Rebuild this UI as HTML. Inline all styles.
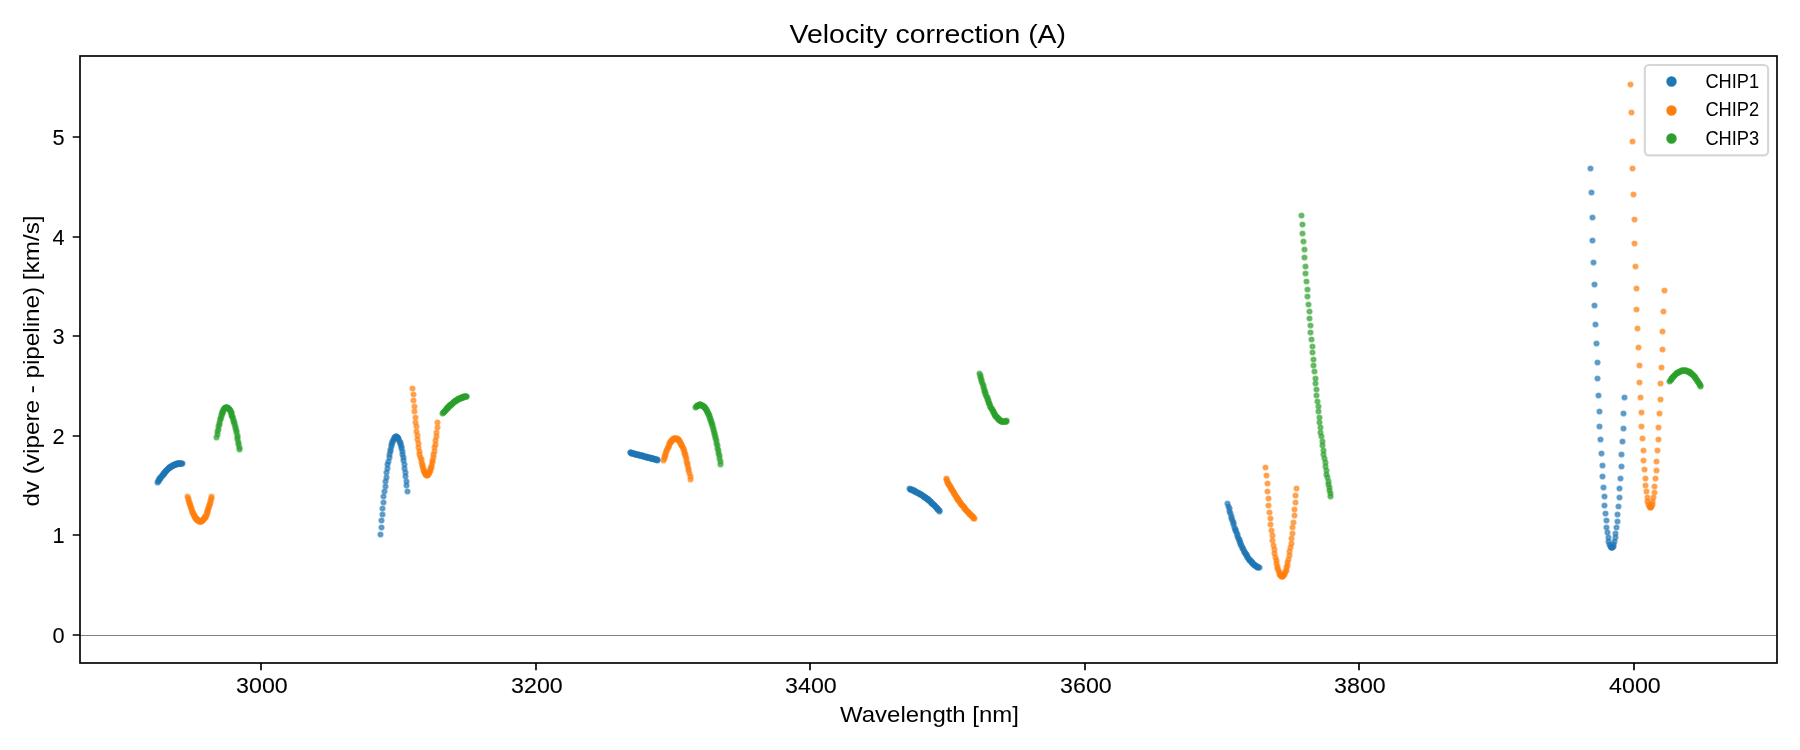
<!DOCTYPE html>
<html lang="en"><head><meta charset="utf-8"><title>Velocity correction (A)</title>
<style>html,body{margin:0;padding:0;background:#fff}body{width:1800px;height:750px;overflow:hidden}svg{display:block;will-change:transform}text{font-family:"Liberation Sans",sans-serif;fill:#000}.t{font-size:22.7px;stroke:#000;stroke-width:.1px}.l{font-size:21.9px}.p circle{fill-opacity:.6;stroke-opacity:.6;stroke-width:2.083}</style></head><body>
<svg width="1800" height="750" viewBox="0 0 1800 750" role="img" aria-label="Velocity correction (A): dv (vipere - pipeline) [km/s] versus Wavelength [nm] for CHIP1, CHIP2, CHIP3">
<rect width="1800" height="750" fill="#fff"/>
<rect x="80" y="635" width="1697" height="1" fill="#808080"/>
<g class="p" fill="#1f77b4" stroke="#1f77b4">
<circle cx="157.5" cy="482.5" r="2.083"/><circle cx="158.5" cy="481.5" r="2.083"/><circle cx="158.5" cy="480.5" r="2.083"/><circle cx="159.5" cy="479.5" r="2.083"/><circle cx="159.5" cy="478.5" r="2.083"/><circle cx="160.5" cy="478.5" r="2.083"/><circle cx="160.5" cy="477.5" r="2.083"/><circle cx="161.5" cy="476.5" r="2.083"/><circle cx="162.5" cy="475.5" r="2.083"/><circle cx="162.5" cy="475.5" r="2.083"/><circle cx="163.5" cy="474.5" r="2.083"/><circle cx="163.5" cy="473.5" r="2.083"/><circle cx="164.5" cy="473.5" r="2.083"/><circle cx="164.5" cy="472.5" r="2.083"/><circle cx="165.5" cy="471.5" r="2.083"/><circle cx="165.5" cy="471.5" r="2.083"/><circle cx="166.5" cy="470.5" r="2.083"/><circle cx="166.5" cy="470.5" r="2.083"/><circle cx="167.5" cy="469.5" r="2.083"/><circle cx="167.5" cy="469.5" r="2.083"/><circle cx="168.5" cy="468.5" r="2.083"/><circle cx="168.5" cy="468.5" r="2.083"/><circle cx="169.5" cy="467.5" r="2.083"/><circle cx="169.5" cy="467.5" r="2.083"/><circle cx="170.5" cy="467.5" r="2.083"/><circle cx="170.5" cy="466.5" r="2.083"/><circle cx="171.5" cy="466.5" r="2.083"/><circle cx="171.5" cy="466.5" r="2.083"/><circle cx="172.5" cy="465.5" r="2.083"/><circle cx="172.5" cy="465.5" r="2.083"/><circle cx="173.5" cy="465.5" r="2.083"/><circle cx="173.5" cy="465.5" r="2.083"/><circle cx="174.5" cy="464.5" r="2.083"/><circle cx="174.5" cy="464.5" r="2.083"/><circle cx="175.5" cy="464.5" r="2.083"/><circle cx="175.5" cy="464.5" r="2.083"/><circle cx="176.5" cy="464.5" r="2.083"/><circle cx="176.5" cy="463.5" r="2.083"/><circle cx="177.5" cy="463.5" r="2.083"/><circle cx="177.5" cy="463.5" r="2.083"/><circle cx="178.5" cy="463.5" r="2.083"/><circle cx="178.5" cy="463.5" r="2.083"/><circle cx="179.5" cy="463.5" r="2.083"/><circle cx="179.5" cy="463.5" r="2.083"/><circle cx="179.5" cy="463.5" r="2.083"/><circle cx="180.5" cy="463.5" r="2.083"/><circle cx="180.5" cy="463.5" r="2.083"/><circle cx="181.5" cy="463.5" r="2.083"/><circle cx="181.5" cy="463.5" r="2.083"/><circle cx="182.5" cy="463.5" r="2.083"/>
<circle cx="380.5" cy="534.5" r="2.083"/><circle cx="381.5" cy="527.5" r="2.083"/><circle cx="381.5" cy="520.5" r="2.083"/><circle cx="382.5" cy="514.5" r="2.083"/><circle cx="382.5" cy="508.5" r="2.083"/><circle cx="383.5" cy="502.5" r="2.083"/><circle cx="383.5" cy="496.5" r="2.083"/><circle cx="384.5" cy="491.5" r="2.083"/><circle cx="385.5" cy="486.5" r="2.083"/><circle cx="385.5" cy="481.5" r="2.083"/><circle cx="386.5" cy="477.5" r="2.083"/><circle cx="386.5" cy="472.5" r="2.083"/><circle cx="387.5" cy="468.5" r="2.083"/><circle cx="387.5" cy="464.5" r="2.083"/><circle cx="388.5" cy="461.5" r="2.083"/><circle cx="389.5" cy="457.5" r="2.083"/><circle cx="389.5" cy="454.5" r="2.083"/><circle cx="390.5" cy="451.5" r="2.083"/><circle cx="390.5" cy="449.5" r="2.083"/><circle cx="391.5" cy="446.5" r="2.083"/><circle cx="391.5" cy="444.5" r="2.083"/><circle cx="392.5" cy="442.5" r="2.083"/><circle cx="392.5" cy="441.5" r="2.083"/><circle cx="393.5" cy="439.5" r="2.083"/><circle cx="394.5" cy="438.5" r="2.083"/><circle cx="394.5" cy="437.5" r="2.083"/><circle cx="395.5" cy="437.5" r="2.083"/><circle cx="395.5" cy="436.5" r="2.083"/><circle cx="396.5" cy="436.5" r="2.083"/><circle cx="396.5" cy="436.5" r="2.083"/><circle cx="397.5" cy="437.5" r="2.083"/><circle cx="397.5" cy="437.5" r="2.083"/><circle cx="398.5" cy="438.5" r="2.083"/><circle cx="398.5" cy="439.5" r="2.083"/><circle cx="399.5" cy="441.5" r="2.083"/><circle cx="400.5" cy="442.5" r="2.083"/><circle cx="400.5" cy="444.5" r="2.083"/><circle cx="401.5" cy="446.5" r="2.083"/><circle cx="401.5" cy="448.5" r="2.083"/><circle cx="402.5" cy="451.5" r="2.083"/><circle cx="402.5" cy="454.5" r="2.083"/><circle cx="403.5" cy="457.5" r="2.083"/><circle cx="403.5" cy="460.5" r="2.083"/><circle cx="404.5" cy="464.5" r="2.083"/><circle cx="404.5" cy="468.5" r="2.083"/><circle cx="405.5" cy="472.5" r="2.083"/><circle cx="405.5" cy="476.5" r="2.083"/><circle cx="406.5" cy="481.5" r="2.083"/><circle cx="406.5" cy="485.5" r="2.083"/><circle cx="407.5" cy="491.5" r="2.083"/>
<circle cx="630.5" cy="452.5" r="2.083"/><circle cx="630.5" cy="452.5" r="2.083"/><circle cx="631.5" cy="452.5" r="2.083"/><circle cx="631.5" cy="453.5" r="2.083"/><circle cx="632.5" cy="453.5" r="2.083"/><circle cx="632.5" cy="453.5" r="2.083"/><circle cx="633.5" cy="453.5" r="2.083"/><circle cx="634.5" cy="453.5" r="2.083"/><circle cx="634.5" cy="453.5" r="2.083"/><circle cx="635.5" cy="454.5" r="2.083"/><circle cx="635.5" cy="454.5" r="2.083"/><circle cx="636.5" cy="454.5" r="2.083"/><circle cx="636.5" cy="454.5" r="2.083"/><circle cx="637.5" cy="454.5" r="2.083"/><circle cx="638.5" cy="454.5" r="2.083"/><circle cx="638.5" cy="454.5" r="2.083"/><circle cx="639.5" cy="455.5" r="2.083"/><circle cx="639.5" cy="455.5" r="2.083"/><circle cx="640.5" cy="455.5" r="2.083"/><circle cx="641.5" cy="455.5" r="2.083"/><circle cx="641.5" cy="455.5" r="2.083"/><circle cx="642.5" cy="455.5" r="2.083"/><circle cx="642.5" cy="455.5" r="2.083"/><circle cx="643.5" cy="456.5" r="2.083"/><circle cx="643.5" cy="456.5" r="2.083"/><circle cx="644.5" cy="456.5" r="2.083"/><circle cx="644.5" cy="456.5" r="2.083"/><circle cx="645.5" cy="456.5" r="2.083"/><circle cx="646.5" cy="456.5" r="2.083"/><circle cx="646.5" cy="457.5" r="2.083"/><circle cx="647.5" cy="457.5" r="2.083"/><circle cx="647.5" cy="457.5" r="2.083"/><circle cx="648.5" cy="457.5" r="2.083"/><circle cx="648.5" cy="457.5" r="2.083"/><circle cx="649.5" cy="457.5" r="2.083"/><circle cx="650.5" cy="457.5" r="2.083"/><circle cx="650.5" cy="458.5" r="2.083"/><circle cx="651.5" cy="458.5" r="2.083"/><circle cx="651.5" cy="458.5" r="2.083"/><circle cx="652.5" cy="458.5" r="2.083"/><circle cx="652.5" cy="458.5" r="2.083"/><circle cx="653.5" cy="458.5" r="2.083"/><circle cx="653.5" cy="458.5" r="2.083"/><circle cx="654.5" cy="459.5" r="2.083"/><circle cx="655.5" cy="459.5" r="2.083"/><circle cx="655.5" cy="459.5" r="2.083"/><circle cx="656.5" cy="459.5" r="2.083"/><circle cx="656.5" cy="459.5" r="2.083"/><circle cx="657.5" cy="459.5" r="2.083"/><circle cx="657.5" cy="460.5" r="2.083"/>
<circle cx="909.5" cy="488.5" r="2.083"/><circle cx="910.5" cy="489.5" r="2.083"/><circle cx="910.5" cy="489.5" r="2.083"/><circle cx="911.5" cy="489.5" r="2.083"/><circle cx="912.5" cy="489.5" r="2.083"/><circle cx="912.5" cy="490.5" r="2.083"/><circle cx="913.5" cy="490.5" r="2.083"/><circle cx="914.5" cy="490.5" r="2.083"/><circle cx="914.5" cy="491.5" r="2.083"/><circle cx="915.5" cy="491.5" r="2.083"/><circle cx="915.5" cy="491.5" r="2.083"/><circle cx="916.5" cy="492.5" r="2.083"/><circle cx="917.5" cy="492.5" r="2.083"/><circle cx="917.5" cy="492.5" r="2.083"/><circle cx="918.5" cy="493.5" r="2.083"/><circle cx="919.5" cy="493.5" r="2.083"/><circle cx="919.5" cy="493.5" r="2.083"/><circle cx="920.5" cy="494.5" r="2.083"/><circle cx="920.5" cy="494.5" r="2.083"/><circle cx="921.5" cy="494.5" r="2.083"/><circle cx="922.5" cy="495.5" r="2.083"/><circle cx="922.5" cy="495.5" r="2.083"/><circle cx="923.5" cy="496.5" r="2.083"/><circle cx="924.5" cy="496.5" r="2.083"/><circle cx="924.5" cy="497.5" r="2.083"/><circle cx="925.5" cy="497.5" r="2.083"/><circle cx="925.5" cy="497.5" r="2.083"/><circle cx="926.5" cy="498.5" r="2.083"/><circle cx="927.5" cy="498.5" r="2.083"/><circle cx="927.5" cy="499.5" r="2.083"/><circle cx="928.5" cy="499.5" r="2.083"/><circle cx="928.5" cy="500.5" r="2.083"/><circle cx="929.5" cy="500.5" r="2.083"/><circle cx="930.5" cy="501.5" r="2.083"/><circle cx="930.5" cy="501.5" r="2.083"/><circle cx="931.5" cy="502.5" r="2.083"/><circle cx="931.5" cy="503.5" r="2.083"/><circle cx="932.5" cy="503.5" r="2.083"/><circle cx="933.5" cy="504.5" r="2.083"/><circle cx="933.5" cy="504.5" r="2.083"/><circle cx="934.5" cy="505.5" r="2.083"/><circle cx="934.5" cy="505.5" r="2.083"/><circle cx="935.5" cy="506.5" r="2.083"/><circle cx="936.5" cy="507.5" r="2.083"/><circle cx="936.5" cy="507.5" r="2.083"/><circle cx="937.5" cy="508.5" r="2.083"/><circle cx="937.5" cy="509.5" r="2.083"/><circle cx="938.5" cy="509.5" r="2.083"/><circle cx="939.5" cy="510.5" r="2.083"/><circle cx="939.5" cy="511.5" r="2.083"/>
<circle cx="1227.5" cy="503.5" r="2.083"/><circle cx="1228.5" cy="506.5" r="2.083"/><circle cx="1229.5" cy="508.5" r="2.083"/><circle cx="1229.5" cy="511.5" r="2.083"/><circle cx="1230.5" cy="513.5" r="2.083"/><circle cx="1231.5" cy="516.5" r="2.083"/><circle cx="1231.5" cy="518.5" r="2.083"/><circle cx="1232.5" cy="520.5" r="2.083"/><circle cx="1233.5" cy="522.5" r="2.083"/><circle cx="1233.5" cy="524.5" r="2.083"/><circle cx="1234.5" cy="527.5" r="2.083"/><circle cx="1235.5" cy="529.5" r="2.083"/><circle cx="1235.5" cy="530.5" r="2.083"/><circle cx="1236.5" cy="532.5" r="2.083"/><circle cx="1237.5" cy="534.5" r="2.083"/><circle cx="1237.5" cy="536.5" r="2.083"/><circle cx="1238.5" cy="538.5" r="2.083"/><circle cx="1239.5" cy="539.5" r="2.083"/><circle cx="1239.5" cy="541.5" r="2.083"/><circle cx="1240.5" cy="542.5" r="2.083"/><circle cx="1240.5" cy="544.5" r="2.083"/><circle cx="1241.5" cy="545.5" r="2.083"/><circle cx="1242.5" cy="547.5" r="2.083"/><circle cx="1242.5" cy="548.5" r="2.083"/><circle cx="1243.5" cy="549.5" r="2.083"/><circle cx="1244.5" cy="551.5" r="2.083"/><circle cx="1244.5" cy="552.5" r="2.083"/><circle cx="1245.5" cy="553.5" r="2.083"/><circle cx="1246.5" cy="554.5" r="2.083"/><circle cx="1246.5" cy="555.5" r="2.083"/><circle cx="1247.5" cy="556.5" r="2.083"/><circle cx="1247.5" cy="557.5" r="2.083"/><circle cx="1248.5" cy="558.5" r="2.083"/><circle cx="1249.5" cy="559.5" r="2.083"/><circle cx="1249.5" cy="560.5" r="2.083"/><circle cx="1250.5" cy="560.5" r="2.083"/><circle cx="1251.5" cy="561.5" r="2.083"/><circle cx="1251.5" cy="562.5" r="2.083"/><circle cx="1252.5" cy="562.5" r="2.083"/><circle cx="1252.5" cy="563.5" r="2.083"/><circle cx="1253.5" cy="564.5" r="2.083"/><circle cx="1254.5" cy="564.5" r="2.083"/><circle cx="1254.5" cy="565.5" r="2.083"/><circle cx="1255.5" cy="565.5" r="2.083"/><circle cx="1256.5" cy="566.5" r="2.083"/><circle cx="1256.5" cy="566.5" r="2.083"/><circle cx="1257.5" cy="566.5" r="2.083"/><circle cx="1257.5" cy="567.5" r="2.083"/><circle cx="1258.5" cy="567.5" r="2.083"/><circle cx="1259.5" cy="567.5" r="2.083"/>
<circle cx="1590.5" cy="168.5" r="2.083"/><circle cx="1591.5" cy="192.5" r="2.083"/><circle cx="1592.5" cy="217.5" r="2.083"/><circle cx="1592.5" cy="240.5" r="2.083"/><circle cx="1593.5" cy="262.5" r="2.083"/><circle cx="1594.5" cy="284.5" r="2.083"/><circle cx="1594.5" cy="305.5" r="2.083"/><circle cx="1595.5" cy="324.5" r="2.083"/><circle cx="1596.5" cy="343.5" r="2.083"/><circle cx="1597.5" cy="362.5" r="2.083"/><circle cx="1597.5" cy="378.5" r="2.083"/><circle cx="1598.5" cy="395.5" r="2.083"/><circle cx="1599.5" cy="411.5" r="2.083"/><circle cx="1599.5" cy="426.5" r="2.083"/><circle cx="1600.5" cy="439.5" r="2.083"/><circle cx="1601.5" cy="453.5" r="2.083"/><circle cx="1602.5" cy="465.5" r="2.083"/><circle cx="1602.5" cy="476.5" r="2.083"/><circle cx="1603.5" cy="487.5" r="2.083"/><circle cx="1604.5" cy="496.5" r="2.083"/><circle cx="1604.5" cy="505.5" r="2.083"/><circle cx="1605.5" cy="513.5" r="2.083"/><circle cx="1606.5" cy="520.5" r="2.083"/><circle cx="1606.5" cy="527.5" r="2.083"/><circle cx="1607.5" cy="532.5" r="2.083"/><circle cx="1608.5" cy="537.5" r="2.083"/><circle cx="1608.5" cy="541.5" r="2.083"/><circle cx="1609.5" cy="544.5" r="2.083"/><circle cx="1610.5" cy="546.5" r="2.083"/><circle cx="1611.5" cy="547.5" r="2.083"/><circle cx="1611.5" cy="547.5" r="2.083"/><circle cx="1612.5" cy="547.5" r="2.083"/><circle cx="1613.5" cy="546.5" r="2.083"/><circle cx="1613.5" cy="544.5" r="2.083"/><circle cx="1614.5" cy="541.5" r="2.083"/><circle cx="1615.5" cy="537.5" r="2.083"/><circle cx="1615.5" cy="533.5" r="2.083"/><circle cx="1616.5" cy="527.5" r="2.083"/><circle cx="1617.5" cy="521.5" r="2.083"/><circle cx="1617.5" cy="514.5" r="2.083"/><circle cx="1618.5" cy="506.5" r="2.083"/><circle cx="1619.5" cy="497.5" r="2.083"/><circle cx="1619.5" cy="488.5" r="2.083"/><circle cx="1620.5" cy="478.5" r="2.083"/><circle cx="1621.5" cy="466.5" r="2.083"/><circle cx="1621.5" cy="454.5" r="2.083"/><circle cx="1622.5" cy="441.5" r="2.083"/><circle cx="1623.5" cy="428.5" r="2.083"/><circle cx="1623.5" cy="413.5" r="2.083"/><circle cx="1624.5" cy="397.5" r="2.083"/>
</g>
<g class="p" fill="#ff7f0e" stroke="#ff7f0e">
<circle cx="187.5" cy="496.5" r="2.083"/><circle cx="188.5" cy="498.5" r="2.083"/><circle cx="188.5" cy="500.5" r="2.083"/><circle cx="189.5" cy="502.5" r="2.083"/><circle cx="189.5" cy="503.5" r="2.083"/><circle cx="190.5" cy="505.5" r="2.083"/><circle cx="190.5" cy="506.5" r="2.083"/><circle cx="191.5" cy="508.5" r="2.083"/><circle cx="191.5" cy="509.5" r="2.083"/><circle cx="192.5" cy="511.5" r="2.083"/><circle cx="192.5" cy="512.5" r="2.083"/><circle cx="193.5" cy="513.5" r="2.083"/><circle cx="193.5" cy="514.5" r="2.083"/><circle cx="194.5" cy="515.5" r="2.083"/><circle cx="194.5" cy="516.5" r="2.083"/><circle cx="195.5" cy="517.5" r="2.083"/><circle cx="195.5" cy="518.5" r="2.083"/><circle cx="196.5" cy="518.5" r="2.083"/><circle cx="196.5" cy="519.5" r="2.083"/><circle cx="197.5" cy="519.5" r="2.083"/><circle cx="197.5" cy="520.5" r="2.083"/><circle cx="198.5" cy="520.5" r="2.083"/><circle cx="198.5" cy="520.5" r="2.083"/><circle cx="199.5" cy="521.5" r="2.083"/><circle cx="199.5" cy="521.5" r="2.083"/><circle cx="200.5" cy="521.5" r="2.083"/><circle cx="200.5" cy="521.5" r="2.083"/><circle cx="201.5" cy="521.5" r="2.083"/><circle cx="201.5" cy="520.5" r="2.083"/><circle cx="202.5" cy="520.5" r="2.083"/><circle cx="202.5" cy="520.5" r="2.083"/><circle cx="203.5" cy="519.5" r="2.083"/><circle cx="203.5" cy="519.5" r="2.083"/><circle cx="204.5" cy="518.5" r="2.083"/><circle cx="204.5" cy="517.5" r="2.083"/><circle cx="205.5" cy="517.5" r="2.083"/><circle cx="205.5" cy="516.5" r="2.083"/><circle cx="206.5" cy="515.5" r="2.083"/><circle cx="206.5" cy="514.5" r="2.083"/><circle cx="207.5" cy="512.5" r="2.083"/><circle cx="207.5" cy="511.5" r="2.083"/><circle cx="207.5" cy="510.5" r="2.083"/><circle cx="208.5" cy="508.5" r="2.083"/><circle cx="208.5" cy="507.5" r="2.083"/><circle cx="209.5" cy="505.5" r="2.083"/><circle cx="209.5" cy="504.5" r="2.083"/><circle cx="210.5" cy="502.5" r="2.083"/><circle cx="210.5" cy="500.5" r="2.083"/><circle cx="211.5" cy="498.5" r="2.083"/><circle cx="211.5" cy="496.5" r="2.083"/>
<circle cx="412.5" cy="388.5" r="2.083"/><circle cx="413.5" cy="394.5" r="2.083"/><circle cx="413.5" cy="400.5" r="2.083"/><circle cx="414.5" cy="406.5" r="2.083"/><circle cx="414.5" cy="411.5" r="2.083"/><circle cx="415.5" cy="417.5" r="2.083"/><circle cx="415.5" cy="422.5" r="2.083"/><circle cx="416.5" cy="426.5" r="2.083"/><circle cx="416.5" cy="431.5" r="2.083"/><circle cx="417.5" cy="435.5" r="2.083"/><circle cx="417.5" cy="439.5" r="2.083"/><circle cx="418.5" cy="443.5" r="2.083"/><circle cx="418.5" cy="447.5" r="2.083"/><circle cx="419.5" cy="451.5" r="2.083"/><circle cx="419.5" cy="454.5" r="2.083"/><circle cx="420.5" cy="457.5" r="2.083"/><circle cx="421.5" cy="459.5" r="2.083"/><circle cx="421.5" cy="462.5" r="2.083"/><circle cx="422.5" cy="464.5" r="2.083"/><circle cx="422.5" cy="466.5" r="2.083"/><circle cx="423.5" cy="468.5" r="2.083"/><circle cx="423.5" cy="470.5" r="2.083"/><circle cx="424.5" cy="471.5" r="2.083"/><circle cx="424.5" cy="472.5" r="2.083"/><circle cx="425.5" cy="473.5" r="2.083"/><circle cx="425.5" cy="474.5" r="2.083"/><circle cx="426.5" cy="474.5" r="2.083"/><circle cx="426.5" cy="475.5" r="2.083"/><circle cx="427.5" cy="475.5" r="2.083"/><circle cx="427.5" cy="474.5" r="2.083"/><circle cx="428.5" cy="474.5" r="2.083"/><circle cx="428.5" cy="473.5" r="2.083"/><circle cx="429.5" cy="472.5" r="2.083"/><circle cx="429.5" cy="471.5" r="2.083"/><circle cx="430.5" cy="470.5" r="2.083"/><circle cx="430.5" cy="468.5" r="2.083"/><circle cx="431.5" cy="467.5" r="2.083"/><circle cx="431.5" cy="465.5" r="2.083"/><circle cx="432.5" cy="462.5" r="2.083"/><circle cx="432.5" cy="460.5" r="2.083"/><circle cx="433.5" cy="457.5" r="2.083"/><circle cx="433.5" cy="454.5" r="2.083"/><circle cx="434.5" cy="451.5" r="2.083"/><circle cx="434.5" cy="447.5" r="2.083"/><circle cx="435.5" cy="444.5" r="2.083"/><circle cx="435.5" cy="440.5" r="2.083"/><circle cx="436.5" cy="436.5" r="2.083"/><circle cx="436.5" cy="432.5" r="2.083"/><circle cx="437.5" cy="427.5" r="2.083"/><circle cx="437.5" cy="422.5" r="2.083"/>
<circle cx="663.5" cy="460.5" r="2.083"/><circle cx="664.5" cy="458.5" r="2.083"/><circle cx="664.5" cy="456.5" r="2.083"/><circle cx="665.5" cy="455.5" r="2.083"/><circle cx="665.5" cy="453.5" r="2.083"/><circle cx="666.5" cy="451.5" r="2.083"/><circle cx="666.5" cy="450.5" r="2.083"/><circle cx="667.5" cy="448.5" r="2.083"/><circle cx="668.5" cy="447.5" r="2.083"/><circle cx="668.5" cy="446.5" r="2.083"/><circle cx="669.5" cy="444.5" r="2.083"/><circle cx="669.5" cy="443.5" r="2.083"/><circle cx="670.5" cy="442.5" r="2.083"/><circle cx="670.5" cy="441.5" r="2.083"/><circle cx="671.5" cy="441.5" r="2.083"/><circle cx="671.5" cy="440.5" r="2.083"/><circle cx="672.5" cy="439.5" r="2.083"/><circle cx="673.5" cy="439.5" r="2.083"/><circle cx="673.5" cy="438.5" r="2.083"/><circle cx="674.5" cy="438.5" r="2.083"/><circle cx="674.5" cy="438.5" r="2.083"/><circle cx="675.5" cy="438.5" r="2.083"/><circle cx="675.5" cy="438.5" r="2.083"/><circle cx="676.5" cy="438.5" r="2.083"/><circle cx="677.5" cy="438.5" r="2.083"/><circle cx="677.5" cy="439.5" r="2.083"/><circle cx="678.5" cy="439.5" r="2.083"/><circle cx="678.5" cy="440.5" r="2.083"/><circle cx="679.5" cy="440.5" r="2.083"/><circle cx="679.5" cy="441.5" r="2.083"/><circle cx="680.5" cy="442.5" r="2.083"/><circle cx="680.5" cy="443.5" r="2.083"/><circle cx="681.5" cy="444.5" r="2.083"/><circle cx="681.5" cy="445.5" r="2.083"/><circle cx="682.5" cy="446.5" r="2.083"/><circle cx="683.5" cy="448.5" r="2.083"/><circle cx="683.5" cy="449.5" r="2.083"/><circle cx="684.5" cy="451.5" r="2.083"/><circle cx="684.5" cy="453.5" r="2.083"/><circle cx="685.5" cy="454.5" r="2.083"/><circle cx="685.5" cy="456.5" r="2.083"/><circle cx="686.5" cy="458.5" r="2.083"/><circle cx="686.5" cy="461.5" r="2.083"/><circle cx="687.5" cy="463.5" r="2.083"/><circle cx="687.5" cy="465.5" r="2.083"/><circle cx="688.5" cy="468.5" r="2.083"/><circle cx="688.5" cy="470.5" r="2.083"/><circle cx="689.5" cy="473.5" r="2.083"/><circle cx="690.5" cy="476.5" r="2.083"/><circle cx="690.5" cy="479.5" r="2.083"/>
<circle cx="946.5" cy="478.5" r="2.083"/><circle cx="946.5" cy="479.5" r="2.083"/><circle cx="947.5" cy="481.5" r="2.083"/><circle cx="947.5" cy="482.5" r="2.083"/><circle cx="948.5" cy="483.5" r="2.083"/><circle cx="948.5" cy="484.5" r="2.083"/><circle cx="949.5" cy="485.5" r="2.083"/><circle cx="950.5" cy="486.5" r="2.083"/><circle cx="950.5" cy="487.5" r="2.083"/><circle cx="951.5" cy="488.5" r="2.083"/><circle cx="951.5" cy="489.5" r="2.083"/><circle cx="952.5" cy="490.5" r="2.083"/><circle cx="953.5" cy="491.5" r="2.083"/><circle cx="953.5" cy="492.5" r="2.083"/><circle cx="954.5" cy="493.5" r="2.083"/><circle cx="954.5" cy="494.5" r="2.083"/><circle cx="955.5" cy="495.5" r="2.083"/><circle cx="956.5" cy="496.5" r="2.083"/><circle cx="956.5" cy="497.5" r="2.083"/><circle cx="957.5" cy="498.5" r="2.083"/><circle cx="957.5" cy="499.5" r="2.083"/><circle cx="958.5" cy="499.5" r="2.083"/><circle cx="958.5" cy="500.5" r="2.083"/><circle cx="959.5" cy="501.5" r="2.083"/><circle cx="960.5" cy="502.5" r="2.083"/><circle cx="960.5" cy="503.5" r="2.083"/><circle cx="961.5" cy="504.5" r="2.083"/><circle cx="961.5" cy="504.5" r="2.083"/><circle cx="962.5" cy="505.5" r="2.083"/><circle cx="963.5" cy="506.5" r="2.083"/><circle cx="963.5" cy="506.5" r="2.083"/><circle cx="964.5" cy="507.5" r="2.083"/><circle cx="964.5" cy="508.5" r="2.083"/><circle cx="965.5" cy="509.5" r="2.083"/><circle cx="965.5" cy="509.5" r="2.083"/><circle cx="966.5" cy="510.5" r="2.083"/><circle cx="967.5" cy="511.5" r="2.083"/><circle cx="967.5" cy="511.5" r="2.083"/><circle cx="968.5" cy="512.5" r="2.083"/><circle cx="968.5" cy="512.5" r="2.083"/><circle cx="969.5" cy="513.5" r="2.083"/><circle cx="969.5" cy="514.5" r="2.083"/><circle cx="970.5" cy="514.5" r="2.083"/><circle cx="971.5" cy="515.5" r="2.083"/><circle cx="971.5" cy="515.5" r="2.083"/><circle cx="972.5" cy="516.5" r="2.083"/><circle cx="972.5" cy="516.5" r="2.083"/><circle cx="973.5" cy="517.5" r="2.083"/><circle cx="973.5" cy="518.5" r="2.083"/><circle cx="974.5" cy="518.5" r="2.083"/>
<circle cx="1265.5" cy="467.5" r="2.083"/><circle cx="1266.5" cy="475.5" r="2.083"/><circle cx="1267.5" cy="483.5" r="2.083"/><circle cx="1267.5" cy="491.5" r="2.083"/><circle cx="1268.5" cy="498.5" r="2.083"/><circle cx="1268.5" cy="505.5" r="2.083"/><circle cx="1269.5" cy="512.5" r="2.083"/><circle cx="1270.5" cy="518.5" r="2.083"/><circle cx="1270.5" cy="524.5" r="2.083"/><circle cx="1271.5" cy="530.5" r="2.083"/><circle cx="1272.5" cy="535.5" r="2.083"/><circle cx="1272.5" cy="540.5" r="2.083"/><circle cx="1273.5" cy="545.5" r="2.083"/><circle cx="1274.5" cy="549.5" r="2.083"/><circle cx="1274.5" cy="553.5" r="2.083"/><circle cx="1275.5" cy="557.5" r="2.083"/><circle cx="1276.5" cy="560.5" r="2.083"/><circle cx="1276.5" cy="563.5" r="2.083"/><circle cx="1277.5" cy="566.5" r="2.083"/><circle cx="1277.5" cy="568.5" r="2.083"/><circle cx="1278.5" cy="570.5" r="2.083"/><circle cx="1279.5" cy="572.5" r="2.083"/><circle cx="1279.5" cy="574.5" r="2.083"/><circle cx="1280.5" cy="575.5" r="2.083"/><circle cx="1281.5" cy="575.5" r="2.083"/><circle cx="1281.5" cy="576.5" r="2.083"/><circle cx="1282.5" cy="576.5" r="2.083"/><circle cx="1282.5" cy="576.5" r="2.083"/><circle cx="1283.5" cy="575.5" r="2.083"/><circle cx="1284.5" cy="574.5" r="2.083"/><circle cx="1284.5" cy="573.5" r="2.083"/><circle cx="1285.5" cy="571.5" r="2.083"/><circle cx="1286.5" cy="570.5" r="2.083"/><circle cx="1286.5" cy="567.5" r="2.083"/><circle cx="1287.5" cy="565.5" r="2.083"/><circle cx="1287.5" cy="562.5" r="2.083"/><circle cx="1288.5" cy="559.5" r="2.083"/><circle cx="1289.5" cy="555.5" r="2.083"/><circle cx="1289.5" cy="551.5" r="2.083"/><circle cx="1290.5" cy="547.5" r="2.083"/><circle cx="1291.5" cy="543.5" r="2.083"/><circle cx="1291.5" cy="538.5" r="2.083"/><circle cx="1292.5" cy="533.5" r="2.083"/><circle cx="1292.5" cy="527.5" r="2.083"/><circle cx="1293.5" cy="522.5" r="2.083"/><circle cx="1294.5" cy="515.5" r="2.083"/><circle cx="1294.5" cy="509.5" r="2.083"/><circle cx="1295.5" cy="502.5" r="2.083"/><circle cx="1295.5" cy="495.5" r="2.083"/><circle cx="1296.5" cy="488.5" r="2.083"/>
<circle cx="1630.5" cy="84.5" r="2.083"/><circle cx="1631.5" cy="112.5" r="2.083"/><circle cx="1632.5" cy="141.5" r="2.083"/><circle cx="1632.5" cy="168.5" r="2.083"/><circle cx="1633.5" cy="194.5" r="2.083"/><circle cx="1634.5" cy="219.5" r="2.083"/><circle cx="1634.5" cy="243.5" r="2.083"/><circle cx="1635.5" cy="266.5" r="2.083"/><circle cx="1636.5" cy="288.5" r="2.083"/><circle cx="1636.5" cy="309.5" r="2.083"/><circle cx="1637.5" cy="328.5" r="2.083"/><circle cx="1638.5" cy="347.5" r="2.083"/><circle cx="1639.5" cy="365.5" r="2.083"/><circle cx="1639.5" cy="382.5" r="2.083"/><circle cx="1640.5" cy="397.5" r="2.083"/><circle cx="1641.5" cy="412.5" r="2.083"/><circle cx="1641.5" cy="426.5" r="2.083"/><circle cx="1642.5" cy="438.5" r="2.083"/><circle cx="1643.5" cy="450.5" r="2.083"/><circle cx="1643.5" cy="460.5" r="2.083"/><circle cx="1644.5" cy="469.5" r="2.083"/><circle cx="1645.5" cy="478.5" r="2.083"/><circle cx="1645.5" cy="485.5" r="2.083"/><circle cx="1646.5" cy="491.5" r="2.083"/><circle cx="1647.5" cy="497.5" r="2.083"/><circle cx="1647.5" cy="501.5" r="2.083"/><circle cx="1648.5" cy="504.5" r="2.083"/><circle cx="1649.5" cy="506.5" r="2.083"/><circle cx="1650.5" cy="507.5" r="2.083"/><circle cx="1650.5" cy="507.5" r="2.083"/><circle cx="1651.5" cy="506.5" r="2.083"/><circle cx="1652.5" cy="504.5" r="2.083"/><circle cx="1652.5" cy="501.5" r="2.083"/><circle cx="1653.5" cy="497.5" r="2.083"/><circle cx="1654.5" cy="492.5" r="2.083"/><circle cx="1654.5" cy="486.5" r="2.083"/><circle cx="1655.5" cy="478.5" r="2.083"/><circle cx="1656.5" cy="470.5" r="2.083"/><circle cx="1656.5" cy="461.5" r="2.083"/><circle cx="1657.5" cy="450.5" r="2.083"/><circle cx="1658.5" cy="439.5" r="2.083"/><circle cx="1658.5" cy="427.5" r="2.083"/><circle cx="1659.5" cy="413.5" r="2.083"/><circle cx="1660.5" cy="399.5" r="2.083"/><circle cx="1660.5" cy="383.5" r="2.083"/><circle cx="1661.5" cy="367.5" r="2.083"/><circle cx="1662.5" cy="349.5" r="2.083"/><circle cx="1662.5" cy="331.5" r="2.083"/><circle cx="1663.5" cy="311.5" r="2.083"/><circle cx="1664.5" cy="290.5" r="2.083"/>
</g>
<g class="p" fill="#2ca02c" stroke="#2ca02c">
<circle cx="216.5" cy="437.5" r="2.083"/><circle cx="217.5" cy="434.5" r="2.083"/><circle cx="217.5" cy="431.5" r="2.083"/><circle cx="218.5" cy="429.5" r="2.083"/><circle cx="218.5" cy="426.5" r="2.083"/><circle cx="219.5" cy="424.5" r="2.083"/><circle cx="219.5" cy="422.5" r="2.083"/><circle cx="220.5" cy="419.5" r="2.083"/><circle cx="220.5" cy="418.5" r="2.083"/><circle cx="221.5" cy="416.5" r="2.083"/><circle cx="221.5" cy="414.5" r="2.083"/><circle cx="222.5" cy="413.5" r="2.083"/><circle cx="222.5" cy="412.5" r="2.083"/><circle cx="222.5" cy="411.5" r="2.083"/><circle cx="223.5" cy="410.5" r="2.083"/><circle cx="223.5" cy="409.5" r="2.083"/><circle cx="224.5" cy="408.5" r="2.083"/><circle cx="224.5" cy="408.5" r="2.083"/><circle cx="225.5" cy="407.5" r="2.083"/><circle cx="225.5" cy="407.5" r="2.083"/><circle cx="226.5" cy="407.5" r="2.083"/><circle cx="226.5" cy="407.5" r="2.083"/><circle cx="227.5" cy="407.5" r="2.083"/><circle cx="227.5" cy="407.5" r="2.083"/><circle cx="228.5" cy="408.5" r="2.083"/><circle cx="228.5" cy="408.5" r="2.083"/><circle cx="229.5" cy="409.5" r="2.083"/><circle cx="229.5" cy="409.5" r="2.083"/><circle cx="230.5" cy="410.5" r="2.083"/><circle cx="230.5" cy="411.5" r="2.083"/><circle cx="231.5" cy="412.5" r="2.083"/><circle cx="231.5" cy="413.5" r="2.083"/><circle cx="231.5" cy="415.5" r="2.083"/><circle cx="232.5" cy="416.5" r="2.083"/><circle cx="232.5" cy="417.5" r="2.083"/><circle cx="233.5" cy="419.5" r="2.083"/><circle cx="233.5" cy="421.5" r="2.083"/><circle cx="234.5" cy="422.5" r="2.083"/><circle cx="234.5" cy="424.5" r="2.083"/><circle cx="235.5" cy="426.5" r="2.083"/><circle cx="235.5" cy="428.5" r="2.083"/><circle cx="236.5" cy="430.5" r="2.083"/><circle cx="236.5" cy="432.5" r="2.083"/><circle cx="237.5" cy="435.5" r="2.083"/><circle cx="237.5" cy="437.5" r="2.083"/><circle cx="237.5" cy="439.5" r="2.083"/><circle cx="238.5" cy="442.5" r="2.083"/><circle cx="238.5" cy="444.5" r="2.083"/><circle cx="239.5" cy="447.5" r="2.083"/><circle cx="239.5" cy="449.5" r="2.083"/>
<circle cx="442.5" cy="413.5" r="2.083"/><circle cx="443.5" cy="412.5" r="2.083"/><circle cx="443.5" cy="412.5" r="2.083"/><circle cx="444.5" cy="411.5" r="2.083"/><circle cx="444.5" cy="411.5" r="2.083"/><circle cx="445.5" cy="410.5" r="2.083"/><circle cx="445.5" cy="410.5" r="2.083"/><circle cx="446.5" cy="409.5" r="2.083"/><circle cx="446.5" cy="408.5" r="2.083"/><circle cx="447.5" cy="408.5" r="2.083"/><circle cx="447.5" cy="407.5" r="2.083"/><circle cx="448.5" cy="407.5" r="2.083"/><circle cx="448.5" cy="406.5" r="2.083"/><circle cx="449.5" cy="406.5" r="2.083"/><circle cx="449.5" cy="405.5" r="2.083"/><circle cx="450.5" cy="405.5" r="2.083"/><circle cx="450.5" cy="404.5" r="2.083"/><circle cx="451.5" cy="404.5" r="2.083"/><circle cx="451.5" cy="404.5" r="2.083"/><circle cx="452.5" cy="403.5" r="2.083"/><circle cx="452.5" cy="403.5" r="2.083"/><circle cx="453.5" cy="402.5" r="2.083"/><circle cx="453.5" cy="402.5" r="2.083"/><circle cx="454.5" cy="401.5" r="2.083"/><circle cx="454.5" cy="401.5" r="2.083"/><circle cx="455.5" cy="401.5" r="2.083"/><circle cx="455.5" cy="400.5" r="2.083"/><circle cx="456.5" cy="400.5" r="2.083"/><circle cx="456.5" cy="400.5" r="2.083"/><circle cx="457.5" cy="399.5" r="2.083"/><circle cx="457.5" cy="399.5" r="2.083"/><circle cx="458.5" cy="399.5" r="2.083"/><circle cx="458.5" cy="398.5" r="2.083"/><circle cx="459.5" cy="398.5" r="2.083"/><circle cx="459.5" cy="398.5" r="2.083"/><circle cx="460.5" cy="398.5" r="2.083"/><circle cx="460.5" cy="398.5" r="2.083"/><circle cx="461.5" cy="397.5" r="2.083"/><circle cx="461.5" cy="397.5" r="2.083"/><circle cx="462.5" cy="397.5" r="2.083"/><circle cx="462.5" cy="397.5" r="2.083"/><circle cx="462.5" cy="397.5" r="2.083"/><circle cx="463.5" cy="397.5" r="2.083"/><circle cx="463.5" cy="396.5" r="2.083"/><circle cx="464.5" cy="396.5" r="2.083"/><circle cx="464.5" cy="396.5" r="2.083"/><circle cx="465.5" cy="396.5" r="2.083"/><circle cx="465.5" cy="396.5" r="2.083"/><circle cx="466.5" cy="396.5" r="2.083"/><circle cx="466.5" cy="396.5" r="2.083"/>
<circle cx="695.5" cy="407.5" r="2.083"/><circle cx="696.5" cy="406.5" r="2.083"/><circle cx="696.5" cy="406.5" r="2.083"/><circle cx="697.5" cy="405.5" r="2.083"/><circle cx="697.5" cy="405.5" r="2.083"/><circle cx="698.5" cy="405.5" r="2.083"/><circle cx="698.5" cy="405.5" r="2.083"/><circle cx="699.5" cy="404.5" r="2.083"/><circle cx="699.5" cy="404.5" r="2.083"/><circle cx="700.5" cy="404.5" r="2.083"/><circle cx="700.5" cy="404.5" r="2.083"/><circle cx="701.5" cy="405.5" r="2.083"/><circle cx="701.5" cy="405.5" r="2.083"/><circle cx="702.5" cy="405.5" r="2.083"/><circle cx="702.5" cy="405.5" r="2.083"/><circle cx="703.5" cy="406.5" r="2.083"/><circle cx="704.5" cy="406.5" r="2.083"/><circle cx="704.5" cy="407.5" r="2.083"/><circle cx="705.5" cy="408.5" r="2.083"/><circle cx="705.5" cy="408.5" r="2.083"/><circle cx="706.5" cy="409.5" r="2.083"/><circle cx="706.5" cy="410.5" r="2.083"/><circle cx="707.5" cy="411.5" r="2.083"/><circle cx="707.5" cy="412.5" r="2.083"/><circle cx="708.5" cy="413.5" r="2.083"/><circle cx="708.5" cy="414.5" r="2.083"/><circle cx="709.5" cy="415.5" r="2.083"/><circle cx="709.5" cy="417.5" r="2.083"/><circle cx="710.5" cy="418.5" r="2.083"/><circle cx="710.5" cy="420.5" r="2.083"/><circle cx="711.5" cy="421.5" r="2.083"/><circle cx="711.5" cy="423.5" r="2.083"/><circle cx="712.5" cy="424.5" r="2.083"/><circle cx="712.5" cy="426.5" r="2.083"/><circle cx="713.5" cy="428.5" r="2.083"/><circle cx="713.5" cy="430.5" r="2.083"/><circle cx="714.5" cy="432.5" r="2.083"/><circle cx="714.5" cy="434.5" r="2.083"/><circle cx="715.5" cy="436.5" r="2.083"/><circle cx="715.5" cy="438.5" r="2.083"/><circle cx="716.5" cy="440.5" r="2.083"/><circle cx="716.5" cy="443.5" r="2.083"/><circle cx="717.5" cy="445.5" r="2.083"/><circle cx="717.5" cy="448.5" r="2.083"/><circle cx="718.5" cy="450.5" r="2.083"/><circle cx="718.5" cy="453.5" r="2.083"/><circle cx="719.5" cy="455.5" r="2.083"/><circle cx="719.5" cy="458.5" r="2.083"/><circle cx="720.5" cy="461.5" r="2.083"/><circle cx="720.5" cy="464.5" r="2.083"/>
<circle cx="979.5" cy="373.5" r="2.083"/><circle cx="980.5" cy="375.5" r="2.083"/><circle cx="980.5" cy="377.5" r="2.083"/><circle cx="981.5" cy="379.5" r="2.083"/><circle cx="981.5" cy="381.5" r="2.083"/><circle cx="982.5" cy="383.5" r="2.083"/><circle cx="983.5" cy="385.5" r="2.083"/><circle cx="983.5" cy="387.5" r="2.083"/><circle cx="984.5" cy="389.5" r="2.083"/><circle cx="984.5" cy="391.5" r="2.083"/><circle cx="985.5" cy="392.5" r="2.083"/><circle cx="985.5" cy="394.5" r="2.083"/><circle cx="986.5" cy="396.5" r="2.083"/><circle cx="987.5" cy="397.5" r="2.083"/><circle cx="987.5" cy="399.5" r="2.083"/><circle cx="988.5" cy="400.5" r="2.083"/><circle cx="988.5" cy="402.5" r="2.083"/><circle cx="989.5" cy="403.5" r="2.083"/><circle cx="989.5" cy="404.5" r="2.083"/><circle cx="990.5" cy="406.5" r="2.083"/><circle cx="990.5" cy="407.5" r="2.083"/><circle cx="991.5" cy="408.5" r="2.083"/><circle cx="992.5" cy="409.5" r="2.083"/><circle cx="992.5" cy="410.5" r="2.083"/><circle cx="993.5" cy="411.5" r="2.083"/><circle cx="993.5" cy="412.5" r="2.083"/><circle cx="994.5" cy="413.5" r="2.083"/><circle cx="994.5" cy="414.5" r="2.083"/><circle cx="995.5" cy="415.5" r="2.083"/><circle cx="995.5" cy="416.5" r="2.083"/><circle cx="996.5" cy="416.5" r="2.083"/><circle cx="997.5" cy="417.5" r="2.083"/><circle cx="997.5" cy="418.5" r="2.083"/><circle cx="998.5" cy="418.5" r="2.083"/><circle cx="998.5" cy="419.5" r="2.083"/><circle cx="999.5" cy="419.5" r="2.083"/><circle cx="999.5" cy="420.5" r="2.083"/><circle cx="1000.5" cy="420.5" r="2.083"/><circle cx="1000.5" cy="420.5" r="2.083"/><circle cx="1001.5" cy="421.5" r="2.083"/><circle cx="1001.5" cy="421.5" r="2.083"/><circle cx="1002.5" cy="421.5" r="2.083"/><circle cx="1002.5" cy="421.5" r="2.083"/><circle cx="1003.5" cy="421.5" r="2.083"/><circle cx="1004.5" cy="421.5" r="2.083"/><circle cx="1004.5" cy="421.5" r="2.083"/><circle cx="1005.5" cy="421.5" r="2.083"/><circle cx="1005.5" cy="421.5" r="2.083"/><circle cx="1006.5" cy="421.5" r="2.083"/><circle cx="1006.5" cy="420.5" r="2.083"/>
<circle cx="1301.5" cy="215.5" r="2.083"/><circle cx="1302.5" cy="224.5" r="2.083"/><circle cx="1302.5" cy="233.5" r="2.083"/><circle cx="1303.5" cy="241.5" r="2.083"/><circle cx="1304.5" cy="249.5" r="2.083"/><circle cx="1304.5" cy="257.5" r="2.083"/><circle cx="1305.5" cy="266.5" r="2.083"/><circle cx="1305.5" cy="273.5" r="2.083"/><circle cx="1306.5" cy="281.5" r="2.083"/><circle cx="1307.5" cy="289.5" r="2.083"/><circle cx="1307.5" cy="296.5" r="2.083"/><circle cx="1308.5" cy="304.5" r="2.083"/><circle cx="1309.5" cy="311.5" r="2.083"/><circle cx="1309.5" cy="318.5" r="2.083"/><circle cx="1310.5" cy="325.5" r="2.083"/><circle cx="1310.5" cy="332.5" r="2.083"/><circle cx="1311.5" cy="339.5" r="2.083"/><circle cx="1312.5" cy="346.5" r="2.083"/><circle cx="1312.5" cy="352.5" r="2.083"/><circle cx="1313.5" cy="359.5" r="2.083"/><circle cx="1313.5" cy="365.5" r="2.083"/><circle cx="1314.5" cy="371.5" r="2.083"/><circle cx="1315.5" cy="378.5" r="2.083"/><circle cx="1315.5" cy="383.5" r="2.083"/><circle cx="1316.5" cy="389.5" r="2.083"/><circle cx="1316.5" cy="395.5" r="2.083"/><circle cx="1317.5" cy="401.5" r="2.083"/><circle cx="1318.5" cy="406.5" r="2.083"/><circle cx="1318.5" cy="411.5" r="2.083"/><circle cx="1319.5" cy="417.5" r="2.083"/><circle cx="1319.5" cy="422.5" r="2.083"/><circle cx="1320.5" cy="427.5" r="2.083"/><circle cx="1320.5" cy="432.5" r="2.083"/><circle cx="1321.5" cy="436.5" r="2.083"/><circle cx="1322.5" cy="441.5" r="2.083"/><circle cx="1322.5" cy="445.5" r="2.083"/><circle cx="1323.5" cy="450.5" r="2.083"/><circle cx="1323.5" cy="454.5" r="2.083"/><circle cx="1324.5" cy="458.5" r="2.083"/><circle cx="1325.5" cy="462.5" r="2.083"/><circle cx="1325.5" cy="466.5" r="2.083"/><circle cx="1326.5" cy="470.5" r="2.083"/><circle cx="1326.5" cy="474.5" r="2.083"/><circle cx="1327.5" cy="477.5" r="2.083"/><circle cx="1328.5" cy="481.5" r="2.083"/><circle cx="1328.5" cy="484.5" r="2.083"/><circle cx="1329.5" cy="487.5" r="2.083"/><circle cx="1329.5" cy="490.5" r="2.083"/><circle cx="1330.5" cy="493.5" r="2.083"/><circle cx="1330.5" cy="496.5" r="2.083"/>
<circle cx="1669.5" cy="381.5" r="2.083"/><circle cx="1670.5" cy="380.5" r="2.083"/><circle cx="1671.5" cy="379.5" r="2.083"/><circle cx="1671.5" cy="378.5" r="2.083"/><circle cx="1672.5" cy="377.5" r="2.083"/><circle cx="1672.5" cy="377.5" r="2.083"/><circle cx="1673.5" cy="376.5" r="2.083"/><circle cx="1674.5" cy="375.5" r="2.083"/><circle cx="1674.5" cy="375.5" r="2.083"/><circle cx="1675.5" cy="374.5" r="2.083"/><circle cx="1676.5" cy="373.5" r="2.083"/><circle cx="1676.5" cy="373.5" r="2.083"/><circle cx="1677.5" cy="372.5" r="2.083"/><circle cx="1678.5" cy="372.5" r="2.083"/><circle cx="1678.5" cy="372.5" r="2.083"/><circle cx="1679.5" cy="371.5" r="2.083"/><circle cx="1680.5" cy="371.5" r="2.083"/><circle cx="1680.5" cy="371.5" r="2.083"/><circle cx="1681.5" cy="370.5" r="2.083"/><circle cx="1682.5" cy="370.5" r="2.083"/><circle cx="1682.5" cy="370.5" r="2.083"/><circle cx="1683.5" cy="370.5" r="2.083"/><circle cx="1683.5" cy="370.5" r="2.083"/><circle cx="1684.5" cy="370.5" r="2.083"/><circle cx="1685.5" cy="370.5" r="2.083"/><circle cx="1685.5" cy="370.5" r="2.083"/><circle cx="1686.5" cy="370.5" r="2.083"/><circle cx="1687.5" cy="371.5" r="2.083"/><circle cx="1687.5" cy="371.5" r="2.083"/><circle cx="1688.5" cy="371.5" r="2.083"/><circle cx="1689.5" cy="371.5" r="2.083"/><circle cx="1689.5" cy="372.5" r="2.083"/><circle cx="1690.5" cy="372.5" r="2.083"/><circle cx="1690.5" cy="373.5" r="2.083"/><circle cx="1691.5" cy="373.5" r="2.083"/><circle cx="1692.5" cy="374.5" r="2.083"/><circle cx="1692.5" cy="374.5" r="2.083"/><circle cx="1693.5" cy="375.5" r="2.083"/><circle cx="1694.5" cy="376.5" r="2.083"/><circle cx="1694.5" cy="376.5" r="2.083"/><circle cx="1695.5" cy="377.5" r="2.083"/><circle cx="1695.5" cy="378.5" r="2.083"/><circle cx="1696.5" cy="379.5" r="2.083"/><circle cx="1697.5" cy="380.5" r="2.083"/><circle cx="1697.5" cy="381.5" r="2.083"/><circle cx="1698.5" cy="382.5" r="2.083"/><circle cx="1699.5" cy="383.5" r="2.083"/><circle cx="1699.5" cy="384.5" r="2.083"/><circle cx="1700.5" cy="385.5" r="2.083"/><circle cx="1700.5" cy="386.5" r="2.083"/>
</g>
<g stroke="#000" stroke-width="1.667" fill="none">
<rect x="80" y="56" width="1697" height="607"/>
<path d="M261 663v7.3M536 663v7.3M810 663v7.3M1085 663v7.3M1359 663v7.3M1634 663v7.3M80 635h-7.3M80 535h-7.3M80 436h-7.3M80 336h-7.3M80 237h-7.3M80 137h-7.3"/></g>
<text class="t" x="261.9" y="692.8" text-anchor="middle" textLength="51.6" lengthAdjust="spacingAndGlyphs">3000</text>
<text class="t" x="536.9" y="692.8" text-anchor="middle" textLength="51.6" lengthAdjust="spacingAndGlyphs">3200</text>
<text class="t" x="810.9" y="692.8" text-anchor="middle" textLength="51.6" lengthAdjust="spacingAndGlyphs">3400</text>
<text class="t" x="1085.9" y="692.8" text-anchor="middle" textLength="51.6" lengthAdjust="spacingAndGlyphs">3600</text>
<text class="t" x="1359.9" y="692.8" text-anchor="middle" textLength="51.6" lengthAdjust="spacingAndGlyphs">3800</text>
<text class="t" x="1634.9" y="692.8" text-anchor="middle" textLength="51.6" lengthAdjust="spacingAndGlyphs">4000</text>
<text class="t" x="64.6" y="642.8" text-anchor="end" textLength="12.1" lengthAdjust="spacingAndGlyphs">0</text>
<text class="t" x="64.6" y="543" text-anchor="end" textLength="12.1" lengthAdjust="spacingAndGlyphs">1</text>
<text class="t" x="64.6" y="444" text-anchor="end" textLength="12.1" lengthAdjust="spacingAndGlyphs">2</text>
<text class="t" x="64.6" y="343.8" text-anchor="end" textLength="12.1" lengthAdjust="spacingAndGlyphs">3</text>
<text class="t" x="64.6" y="245" text-anchor="end" textLength="12.1" lengthAdjust="spacingAndGlyphs">4</text>
<text class="t" x="64.6" y="144.8" text-anchor="end" textLength="12.1" lengthAdjust="spacingAndGlyphs">5</text>
<text x="927.8" y="43" text-anchor="middle" font-size="26.3" textLength="276.5" lengthAdjust="spacingAndGlyphs">Velocity correction (A)</text>
<text x="929.5" y="722" text-anchor="middle" class="l" textLength="179" lengthAdjust="spacingAndGlyphs">Wavelength [nm]</text>
<text transform="translate(38.6 361) rotate(-90)" text-anchor="middle" class="l" textLength="291" lengthAdjust="spacingAndGlyphs">dv (vipere - pipeline) [km/s]</text>
<rect x="1644.8" y="65" width="123.3" height="90.4" rx="4.2" ry="4.2" fill="#fff" fill-opacity=".8" stroke="#ccc" stroke-opacity=".8" stroke-width="2.083"/>
<circle cx="1671.5" cy="81.5" r="4.167" fill="#1f77b4" stroke="#1f77b4" stroke-width="2.083"/>
<text x="1705.4" y="88.0" font-size="19.85" textLength="53.8" lengthAdjust="spacingAndGlyphs">CHIP1</text>
<circle cx="1671.5" cy="110.5" r="4.167" fill="#ff7f0e" stroke="#ff7f0e" stroke-width="2.083"/>
<text x="1705.4" y="116.4" font-size="19.85" textLength="53.8" lengthAdjust="spacingAndGlyphs">CHIP2</text>
<circle cx="1671.5" cy="138.5" r="4.167" fill="#2ca02c" stroke="#2ca02c" stroke-width="2.083"/>
<text x="1705.4" y="144.7" font-size="19.85" textLength="53.8" lengthAdjust="spacingAndGlyphs">CHIP3</text>
</svg></body></html>
